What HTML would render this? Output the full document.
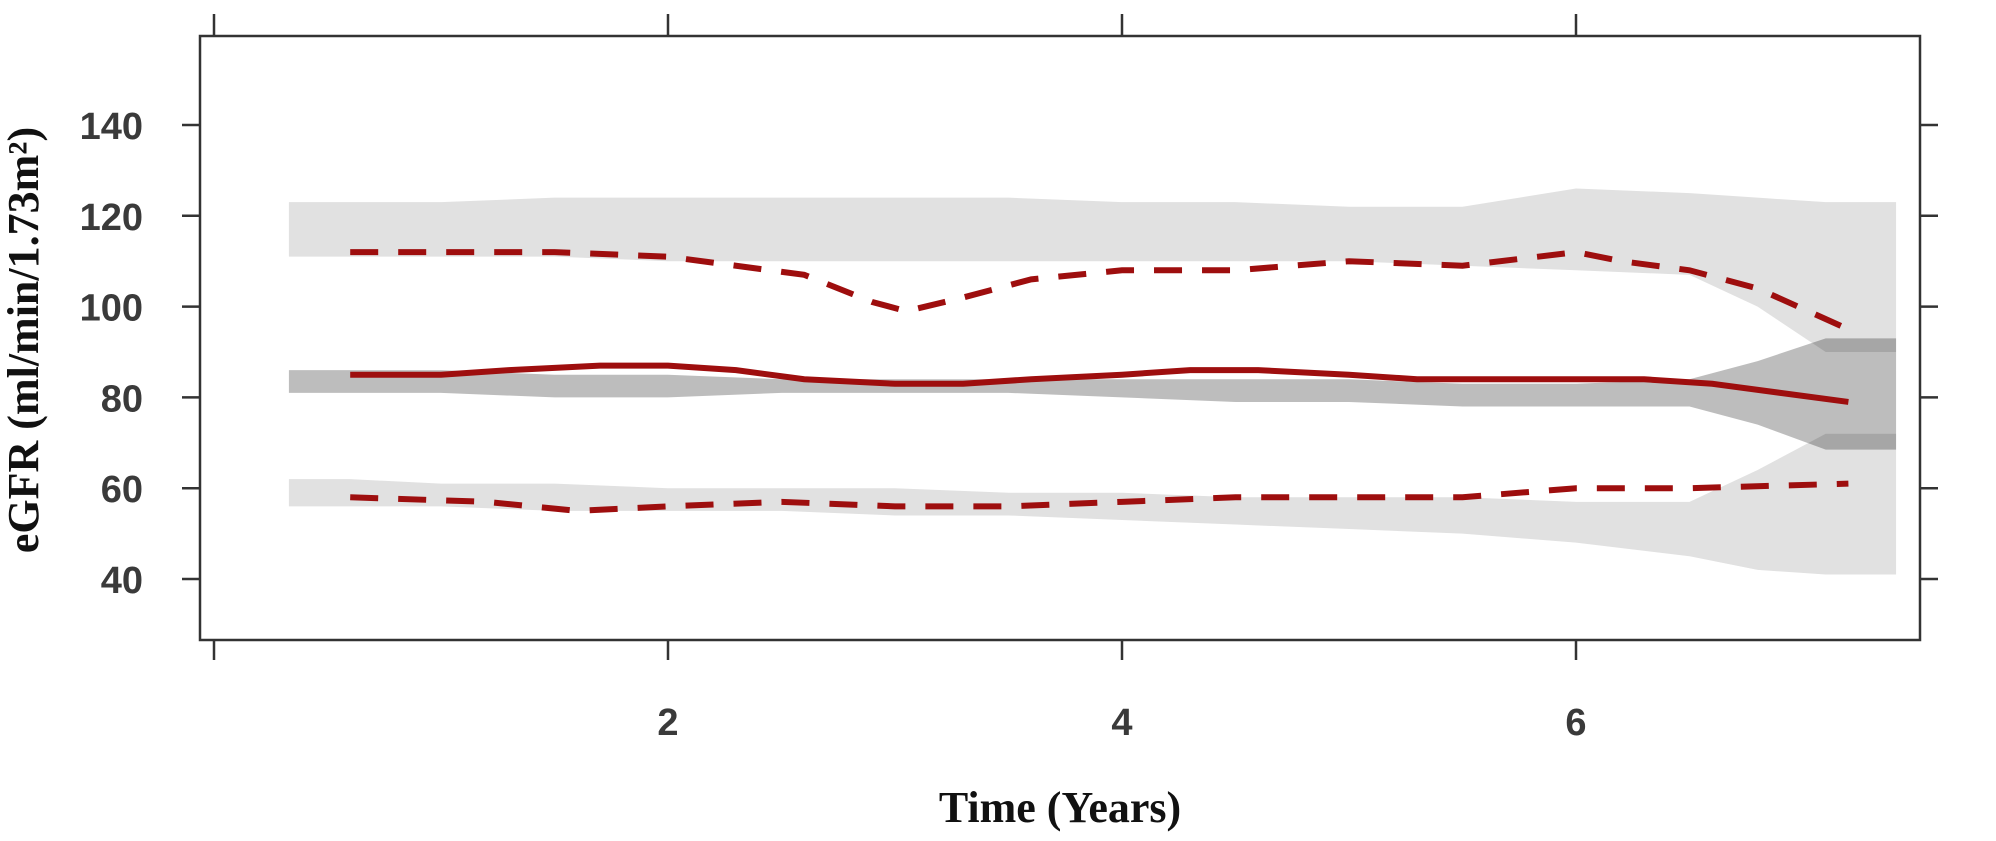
<!DOCTYPE html>
<html><head><meta charset="utf-8"><style>
html,body{margin:0;padding:0;background:#fff;}
svg{display:block;}
</style></head><body>
<svg id="chart" width="1996" height="841" viewBox="0 0 1996 841" xmlns="http://www.w3.org/2000/svg">
<g id="bands"></g>
<g id="lines"></g>
<rect x="200" y="36" width="1720" height="604" fill="none" stroke="#333" stroke-width="2.5"/>
<g id="axes"></g>
<text x="1060" y="822" text-anchor="middle" font-family="Liberation Serif, serif" font-weight="bold" font-size="44" fill="#111">Time (Years)</text>
<text transform="translate(38,340) rotate(-90)" text-anchor="middle" font-family="Liberation Serif, serif" font-weight="bold" font-size="44" fill="#111">eGFR (ml/min/1.73m²)</text>
</svg>
<script>
const bandT = [0.33,0.6,1.0,1.5,2.0,2.5,3.0,3.5,4.0,4.5,5.0,5.5,6.0,6.5,6.8,7.1,7.41];
const upperHi = [123,123,123,124,124,124,124,124,123,123,122,122,126,125,124,123,123];
const upperLo = [111,111,111,111,110,110,110,110,110,110,110,109,108,107,100,90,90];
const midHi   = [86,86,86,85,85,84,84,84,84,84,84,83,83,84,88,93,93];
const midLo   = [81,81,81,80,80,81,81,81,80,79,79,78,78,78,74,68.5,68.5];
const lowerHi = [62,62,61,61,60,60,60,59,59,58,58,58,57,57,64,72,72];
const lowerLo = [56,56,56,55,55,55,54,54,53,52,51,50,48,45,42,41,41];
const meanT = [0.6,1.0,1.3,1.7,2.0,2.3,2.6,3.0,3.3,3.6,4.0,4.3,4.6,5.0,5.3,5.6,6.0,6.3,6.6,6.9,7.2];
const meanV = [85,85,86,87,87,86,84,83,83,84,85,86,86,85,84,84,84,84,83,81,79];
const upDashT = [0.6,1.0,1.5,2.0,2.3,2.6,2.9,3.05,3.3,3.6,4.0,4.5,5.0,5.5,6.0,6.2,6.5,6.8,7.2];
const upDashV = [112,112,112,111,109,107,101,99,102,106,108,108,110,109,112,110,108,104,95];
const loDashT = [0.6,1.2,1.6,2.0,2.5,3.0,3.5,4.0,4.5,5.0,5.5,6.0,6.5,7.2];
const loDashV = [58,57,55,56,57,56,56,57,58,58,58,60,60,61];
const xTicks = [0,2,4,6];
const xTickLabels = ["","2","4","6"];
const yTicks = [40,60,80,100,120,140];
const yTickLabels = ["40","60","80","100","120","140"];

const X = t => 214 + t*227;
const Y = v => 579 - (v-40)*4.54;
const NS = "http://www.w3.org/2000/svg";
const bands = document.getElementById('bands');
const lines = document.getElementById('lines');
const axes = document.getElementById('axes');

function bandPath(hi, lo){
  let d = bandT.map((t,i)=>(i?'L':'M')+X(t)+','+Y(hi[i])).join(' ');
  for(let i=bandT.length-1;i>=0;i--) d += ' L'+X(bandT[i])+','+Y(lo[i]);
  return d+' Z';
}
function linePath(ts, vs){ return ts.map((t,i)=>(i?'L':'M')+X(t)+','+Y(vs[i])).join(' '); }

const ub = document.createElementNS(NS,'path');


ub.setAttribute('d', bandPath(upperHi, upperLo)); ub.setAttribute('fill', '#e1e1e1');
bands.appendChild(ub);
const lb = document.createElementNS(NS,'path');


lb.setAttribute('d', bandPath(lowerHi, lowerLo)); lb.setAttribute('fill', '#e1e1e1');
bands.appendChild(lb);
const mb = document.createElementNS(NS,'path');


mb.setAttribute('d', bandPath(midHi, midLo)); mb.setAttribute('fill', 'rgba(0,0,0,0.26)');
bands.appendChild(mb);

const ml = document.createElementNS(NS,'path');


ml.setAttribute('d', linePath(meanT, meanV));
ml.setAttribute('fill','none'); ml.setAttribute('stroke','#9e0e0e'); ml.setAttribute('stroke-width','6');
lines.appendChild(ml);
const ud = document.createElementNS(NS,'path');


ud.setAttribute('d', linePath(upDashT, upDashV));
ud.setAttribute('fill','none'); ud.setAttribute('stroke','#9e0e0e'); ud.setAttribute('stroke-width','6'); ud.setAttribute('stroke-dasharray','28 20');
lines.appendChild(ud);
const ld = document.createElementNS(NS,'path');


ld.setAttribute('d', linePath(loDashT, loDashV));
ld.setAttribute('fill','none'); ld.setAttribute('stroke','#9e0e0e'); ld.setAttribute('stroke-width','6'); ld.setAttribute('stroke-dasharray','28 20');
lines.appendChild(ld);

function mkLine(x1,y1,x2,y2,name){
  const l = document.createElementNS(NS,'line');
  
  
  l.setAttribute('x1',x1); l.setAttribute('y1',y1); l.setAttribute('x2',x2); l.setAttribute('y2',y2);
  l.setAttribute('stroke','#333'); l.setAttribute('stroke-width','2.5');
  axes.appendChild(l);
}
xTicks.forEach((t,i)=>{
  mkLine(X(t),640,X(t),660,'x-tick');
  mkLine(X(t),14,X(t),36,'x-tick-top');
  if(xTickLabels[i]){
    const tx = document.createElementNS(NS,'text');
    
    
    tx.setAttribute('x',X(t)); tx.setAttribute('y',735); tx.setAttribute('text-anchor','middle');
    tx.setAttribute('font-family','Liberation Sans, sans-serif'); tx.setAttribute('font-size','38'); tx.setAttribute('font-weight','bold'); tx.setAttribute('fill','#3a3a3a');
    tx.textContent = xTickLabels[i];
    axes.appendChild(tx);
  }
});
yTicks.forEach((v,i)=>{
  mkLine(182,Y(v),200,Y(v),'y-tick');
  mkLine(1920,Y(v),1938,Y(v),'y-tick-right');
  const tx = document.createElementNS(NS,'text');
  
  
  tx.setAttribute('x',143); tx.setAttribute('y',Y(v)+14); tx.setAttribute('text-anchor','end');
  tx.setAttribute('font-family','Liberation Sans, sans-serif'); tx.setAttribute('font-size','38'); tx.setAttribute('font-weight','bold'); tx.setAttribute('fill','#3a3a3a');
  tx.textContent = yTickLabels[i];
  axes.appendChild(tx);
});
</script>
</body></html>
